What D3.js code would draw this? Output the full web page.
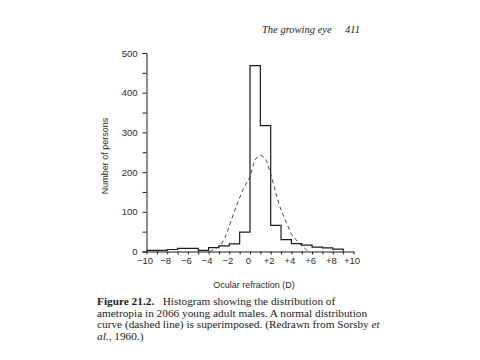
<!DOCTYPE html>
<html><head><meta charset="utf-8">
<script src="https://cdn.jsdelivr.net/npm/d3@7"></script>
<style>
html,body{margin:0;padding:0;background:#fff;}
svg{display:block;}
</style></head>
<body>
<svg id="c" width="480" height="360"></svg>
<script>
// Histogram: bin left edges (D) and counts
const binStarts = [-10,-9,-8,-7,-6,-5,-4,-3,-2,-1,0,1,2,3,4,5,6,7,8];
const binCounts = [3,3,5,8,8,3,10,14,19,49,468,317,66,30,20,16,11,9,6];
const binWidth = 1;
// Superimposed normal curve (dashed)
const curveX = [-3.9,-2.9,-2.4,-2.1,-1.46,-0.6,0,0.49,0.97,1.46,1.94,2.43,2.9,3.56,4.0,4.37,5.0,5.34,5.7];
const curveY = [0,15,36,57,104,160,188,230,242,234,200,154,112,70,44,32,14,7,0];
// Axis ticks / labels
const xMajorTicks = [-10,-8,-6,-4,-2,0,2,4,6,8,10];
const xTickLabels = ["\u221210","\u22128","\u22126","\u22124","\u22122","0","+2","+4","+6","+8","+10"];
const xMinorTicks = d3.range(-10,11,1);
const yMajorTicks = [0,100,200,300,400,500];
const yMinorTicks = d3.range(0,501,50);
const xTitle = "Ocular refraction (D)";
const yTitle = "Number of persons";
const header = ["The growing eye","411"];
const caption = [
  [{t:"Figure 21.2.",b:true},{t:"\u2002 Histogram showing the distribution of"}],
  [{t:"ametropia in 2066 young adult males. A normal distribution"}],
  [{t:"curve (dashed line) is superimposed. (Redrawn from Sorsby "},{t:"et",i:true}],
  [{t:"al.",i:true},{t:", 1960.)"}]
];

const svg = d3.select("#c");
const ink = "#1c1c1c";
const sans = "Liberation Sans, Arial, sans-serif";
const x = d3.scaleLinear().domain([-10,10]).range([146.5,353.5]);
const y = d3.scaleLinear().domain([0,500]).range([251.5,53]);

// y axis
const yAxis = d3.axisLeft(y).tickValues(yMinorTicks).tickSize(4)
  .tickFormat(d => yMajorTicks.includes(d) ? d : "");
const gy = svg.append("g").attr("transform",`translate(${x(-10)},0)`).call(yAxis);
gy.select(".domain").attr("stroke",ink).attr("stroke-width",1);
gy.selectAll(".tick line").attr("stroke",ink);
gy.selectAll(".tick text").attr("font-family",sans)
  .attr("font-size",9.5).attr("fill","#2a2a2a").attr("x",-9);

// x axis
const xAxis = d3.axisBottom(x).tickValues(xMinorTicks).tickSize(3).tickSizeOuter(0)
  .tickFormat(d => { const i = xMajorTicks.indexOf(d); return i>=0 ? xTickLabels[i] : ""; });
const gx = svg.append("g").attr("transform",`translate(0,${y(0)})`).call(xAxis);
gx.select(".domain").attr("stroke",ink).attr("stroke-width",1);
gx.selectAll(".tick line").attr("stroke",ink);
gx.selectAll(".tick text").attr("font-family",sans)
  .attr("font-size",9.5).attr("fill","#2a2a2a").attr("y",6).attr("dx",-2);

// histogram outline
const pts = binStarts.map((s,i)=>[s,binCounts[i]]);
const last = binStarts.length-1;
pts.push([binStarts[last]+binWidth, binCounts[last]]);
const step = d3.line().x(d=>x(d[0])).y(d=>y(d[1])).curve(d3.curveStepAfter);
svg.append("path").attr("d", step(pts) + `L${x(binStarts[last]+binWidth)},${y(0)}`)
  .attr("fill","none").attr("stroke",ink).attr("stroke-width",1.2);

// normal curve
const cpts = curveX.map((v,i)=>[v,curveY[i]]);
svg.append("path").attr("d", d3.line().x(d=>x(d[0])).y(d=>y(d[1])).curve(d3.curveCatmullRom)(cpts))
  .attr("fill","none").attr("stroke","#333").attr("stroke-width",0.9).attr("stroke-dasharray","4,3");

// axis titles
svg.append("text").attr("x",254).attr("y",288).attr("text-anchor","middle")
  .attr("font-family",sans).attr("font-size",9).attr("fill","#2a2a2a").text(xTitle);
svg.append("text").attr("transform","translate(108,156) rotate(-90)").attr("text-anchor","middle")
  .attr("font-family",sans).attr("font-size",9).attr("fill","#2a2a2a").text(yTitle);

// running header
svg.append("text").attr("x",262).attr("y",33).attr("font-family","Liberation Serif, serif")
  .attr("font-style","italic").attr("font-size",10.5).attr("fill","#222").text(header[0]);
svg.append("text").attr("x",345).attr("y",33).attr("font-family","Liberation Serif, serif")
  .attr("font-style","italic").attr("font-size",10.5).attr("fill","#222").text(header[1]);

// caption
caption.forEach((line,i)=>{
  const t = svg.append("text").attr("x",97).attr("y",305+i*11.7)
    .attr("font-family","Liberation Serif, serif").attr("font-size",11.3).attr("fill","#222");
  line.forEach(p=>{
    t.append("tspan").attr("font-weight",p.b?"bold":null).attr("font-style",p.i?"italic":null).text(p.t);
  });
});
</script>
</body></html>
